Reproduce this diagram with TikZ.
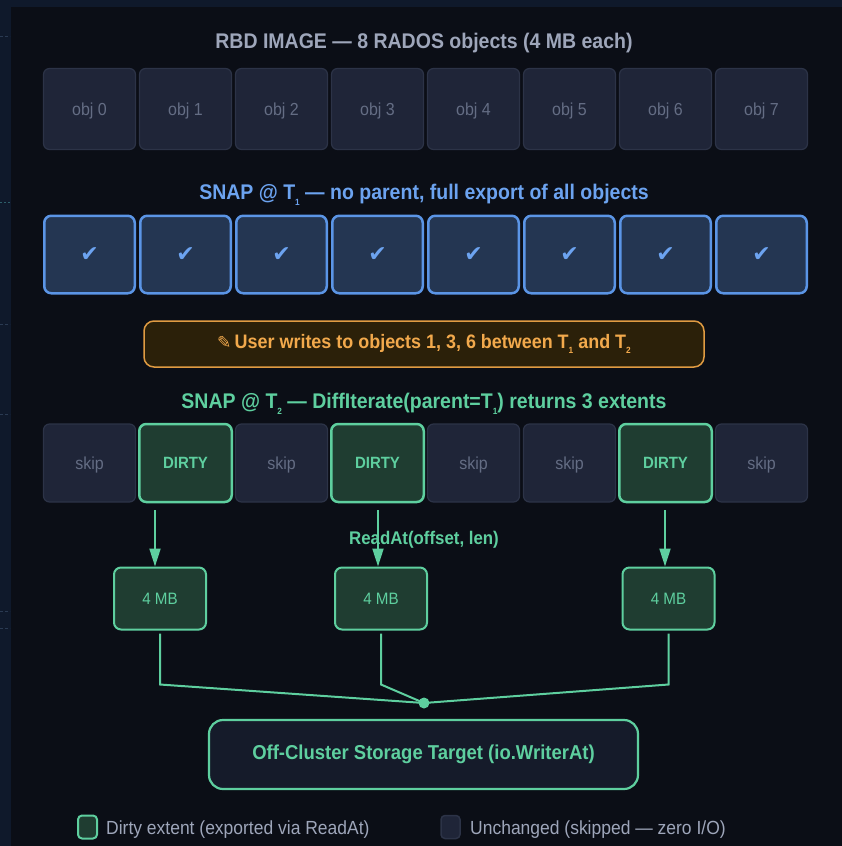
\documentclass[tikz,border=0pt]{standalone}
\usepackage{fontspec}
\setmainfont{Liberation Sans}[FakeStretch=0.92]
\newfontfamily\dejavu{DejaVu Sans}
\usetikzlibrary{arrows.meta}
\definecolor{outerbg}{HTML}{0F192B}
\definecolor{panel}{HTML}{0B0E16}
\definecolor{graytxt}{HTML}{9EA6BA}
\definecolor{objtxt}{HTML}{646D84}
\definecolor{objfill}{HTML}{1F2538}
\definecolor{objdraw}{HTML}{2C3347}
\definecolor{bluedraw}{HTML}{5B95E6}
\definecolor{bluefill}{HTML}{243652}
\definecolor{bluetxt}{HTML}{6CA3F0}
\definecolor{orgdraw}{HTML}{E09B42}
\definecolor{orgfill}{HTML}{2B2009}
\definecolor{orgtxt}{HTML}{F2A94C}
\definecolor{grn}{HTML}{5ECF9F}
\definecolor{grnfill}{HTML}{1F3D31}
\definecolor{tgtfill}{HTML}{151B2A}
\definecolor{marks}{HTML}{2A3A52}
\definecolor{marks2}{HTML}{2D5F6A}
\newcommand{\subn}[1]{\raisebox{-0.55ex}{\fontsize{9}{9}\selectfont #1}}
\begin{document}
\begin{tikzpicture}[x=1pt,y=-1pt,
  objbox/.style={draw=objdraw, fill=objfill, line width=1.2pt, rounded corners=6pt,
    minimum width=92pt, minimum height=81pt, inner sep=0pt, text=objtxt,
    text height=12pt, text depth=0pt,
    font=\fontsize{17.4}{17.4}\selectfont},
  snapbox/.style={draw=bluedraw, fill=bluefill, line width=2.5pt, rounded corners=7pt,
    minimum width=90.5pt, minimum height=77.5pt, inner sep=0pt, text=bluetxt,
    text height=14pt, text depth=0pt,
    font=\dejavu\fontsize{22}{22}\selectfont},
  skipbox/.style={objbox, minimum height=78pt, text=objtxt},
  dirtybox/.style={draw=grn, fill=grnfill, line width=2.5pt, rounded corners=7pt,
    minimum width=92.5pt, minimum height=78pt, inner sep=0pt, text=grn,
    text height=11.7pt, text depth=0pt,
    font=\bfseries\fontsize{16.3}{16.3}\selectfont},
  mbbox/.style={draw=grn, fill=grnfill, line width=2pt, rounded corners=7pt,
    minimum width=92pt, minimum height=62pt, inner sep=0pt, text=grn,
    text height=11.8pt, text depth=0pt,
    font=\fontsize{16.5}{16.5}\selectfont},
  ttl/.style={font=\bfseries\fontsize{21.2}{24}\selectfont, inner sep=0pt},
  conn/.style={draw=grn, line width=2pt},
  arr/.style={draw=grn, line width=2pt, -{Triangle[length=18pt,width=11pt]}},
  legtxt/.style={anchor=west, text=graytxt, inner sep=0pt, font=\fontsize{19}{20}\selectfont}
]
\useasboundingbox (0,0) rectangle (842,846);
\fill[outerbg] (0,0) rectangle (842,846);
\fill[panel] (11,7) rectangle (842,846);
\foreach \yy in {36,324,414,611,628}
  \draw[marks, dash pattern=on 3pt off 2pt, line width=0.8pt] (0,\yy) -- (10,\yy);
\draw[marks2, dash pattern=on 2pt off 2pt, line width=0.8pt] (0,202) -- (10,202);

% Row 1
\node[ttl, text=graytxt] (t1) at (424,43.5) {RBD IMAGE — 8 RADOS objects (4 MB each)};
\foreach \i in {0,...,7}
  \node[objbox] (o\i) at ({89.5+96*\i},109) {obj \i};

% Row 2
\node[ttl, text=bluetxt] (t2) at (424,194.5) {SNAP @ T\subn{1} — no parent, full export of all objects};
\foreach \i in {0,...,7}
  \node[snapbox] (s\i) at ({89.5+96*\i},254.5) {✔};

% Banner
\node[draw=orgdraw, fill=orgfill, line width=1.5pt, rounded corners=10pt,
  minimum width=560pt, minimum height=46pt, text=orgtxt,
  font=\bfseries\fontsize{19.5}{21}\selectfont] (banner) at (424,344)
  {{\dejavu\mdseries\fontsize{17}{17}\selectfont ✎}\,User writes to objects 1, 3, 6 between T\subn{1} and T\subn{2}};

% Row 3
\node[ttl, text=grn] (t3) at (424,403.5) {SNAP @ T\subn{2} — DiffIterate(parent=T\subn{1}) returns 3 extents};
\node[skipbox] (r0) at (89.5,463) {skip};
\node[dirtybox] (r1) at (185.5,463) {DIRTY};
\node[skipbox] (r2) at (281.5,463) {skip};
\node[dirtybox] (r3) at (377.5,463) {DIRTY};
\node[skipbox] (r4) at (473.5,463) {skip};
\node[skipbox] (r5) at (569.5,463) {skip};
\node[dirtybox] (r6) at (665.5,463) {DIRTY};
\node[skipbox] (r7) at (761.5,463) {skip};

% extents
\node[mbbox] (m1) at (160,598.5) {4 MB};
\node[mbbox] (m2) at (381,598.5) {4 MB};
\node[mbbox] (m3) at (668.5,598.5) {4 MB};

\node[text=grn, inner sep=0pt, font=\bfseries\fontsize{18.3}{20}\selectfont] (lbl) at (424,539.5) {ReadAt(offset, len)};

\coordinate (a1) at (155,510);
\coordinate (a2) at (378,510);
\coordinate (a3) at (665,510);
\draw[arr] (a1) -- (a1 |- m1.north);
\draw[arr] (a2) -- (a2 |- m2.north);
\draw[arr] (a3) -- (a3 |- m3.north);

% merge
\node[circle, fill=grn, inner sep=0pt, minimum size=11pt] (dot) at (424,703) {};
\draw[conn] ([yshift=-3pt]m1.south) -- ++(0,51) -- (dot.center);
\draw[conn] ([yshift=-3pt]m2.south) -- ++(0,51) -- (dot.center);
\draw[conn] ([yshift=-3pt]m3.south) -- ++(0,51) -- (dot.center);

% target
\node[draw=grn, fill=tgtfill, line width=2.2pt, rounded corners=14pt,
  minimum width=429pt, minimum height=69pt, text=grn,
  font=\bfseries\fontsize{20.1}{22}\selectfont] (tgt) at (423.5,754.5)
  {Off-Cluster Storage Target (io.WriterAt)};

% legend
\node[draw=grn, fill=grnfill, line width=2pt, rounded corners=4pt,
  minimum width=19pt, minimum height=23pt, inner sep=0pt] (lg1) at (87.5,827) {};
\node[legtxt] (lt1) at (106,830) {Dirty extent (exported via ReadAt)};
\node[draw=objdraw, fill=objfill, line width=1.5pt, rounded corners=4pt,
  minimum width=19pt, minimum height=23pt, inner sep=0pt] (lg2) at (450.5,827) {};
\node[legtxt] (lt2) at (470,830) {Unchanged (skipped — zero I/O)};
\end{tikzpicture}
\end{document}
